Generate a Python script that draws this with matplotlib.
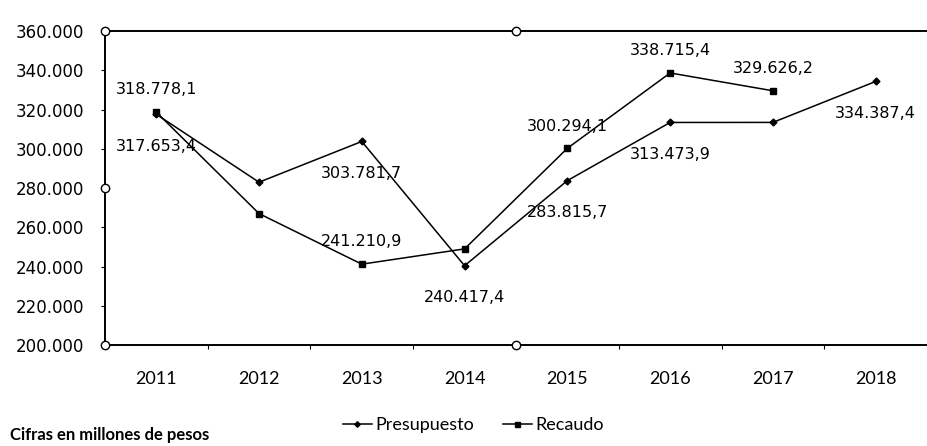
import matplotlib
matplotlib.use("Agg")
import matplotlib.pyplot as plt
from matplotlib.ticker import FuncFormatter, MultipleLocator

years = ["2011", "2012", "2013", "2014", "2015", "2016", "2017", "2018"]
presupuesto = [317653.4, 283000, 303781.7, 240417.4, 283815.7, 313473.9, 313500, 334387.4]
recaudo = [318778.1, 267000, 241210.9, 249000, 300294.1, 338715.4, 329626.2, None]
# which points carry a data label in the original
pres_labels = ["317.653,4", None, "303.781,7", "240.417,4", "283.815,7", "313.473,9", None, "334.387,4"]
rec_labels = ["318.778,1", None, "241.210,9", None, "300.294,1", "338.715,4", "329.626,2", None]

num_font = "DejaVu Sans"
cat_font = "Lato"

fig = plt.figure(figsize=(9.28, 4.46), dpi=100)
ax = fig.add_axes([0.113, 0.2265, 0.886, 0.7035])

x = list(range(len(years)))
ax.plot(x, presupuesto, "-", color="black", lw=1.1, marker="D", ms=3.5, label="Presupuesto")
rx = [i for i, v in zip(x, recaudo) if v is not None]
ry = [v for v in recaudo if v is not None]
ax.plot(rx, ry, "-", color="black", lw=1.1, marker="s", ms=4.5, label="Recaudo")

for i, (v, lab) in enumerate(zip(presupuesto, pres_labels)):
    if lab:
        ax.annotate(lab, (i, v), xytext=(0, -23), textcoords="offset points",
                    ha="center", va="center", fontsize=11.5, family=num_font)
for i, (v, lab) in enumerate(zip(recaudo, rec_labels)):
    if lab:
        ax.annotate(lab, (i, v), xytext=(0, 16), textcoords="offset points",
                    ha="center", va="center", fontsize=11.5, family=num_font)

ax.set_xlim(-0.5, len(years) - 0.5)
ax.set_ylim(200000, 360000)
ax.yaxis.set_major_locator(MultipleLocator(20000))
ax.yaxis.set_major_formatter(FuncFormatter(lambda v, p: f"{int(v):,}".replace(",", ".")))
ax.set_xticks(x)
ax.set_xticklabels(years)
ax.set_xticks([i + 0.5 for i in x[:-1]], minor=True)
ax.tick_params(axis="x", which="major", length=0, pad=19, labelsize=13)
ax.tick_params(axis="x", which="minor", length=3, width=0.8, direction="out")
ax.tick_params(axis="y", length=3, width=0.8, pad=12, labelsize=12)
for t in ax.get_xticklabels():
    t.set_family(cat_font)
for t in ax.get_yticklabels():
    t.set_family(num_font)

for s in ["top", "bottom", "left"]:
    ax.spines[s].set_linewidth(1.4)
ax.spines["right"].set_visible(False)

# chart selection handles seen in the source
for hx, hy in [(0, 0), (0, 0.5), (0, 1), (0.5, 0), (0.5, 1)]:
    ax.plot(hx, hy, "o", mfc="white", mec="black", ms=6, mew=1,
            transform=ax.transAxes, clip_on=False, zorder=5)

fig.legend(loc="center", bbox_to_anchor=(0.51, 0.047), ncol=2, frameon=False,
           handlelength=1.6, handletextpad=0.2, columnspacing=1.6,
           prop={"family": cat_font, "size": 13}, markerscale=0.8)
fig.text(0.011, 0.025, "Cifras en millones de pesos", family=cat_font,
         fontweight="bold", fontsize=12, va="center", ha="left")

fig.savefig("out.png", dpi=100)
